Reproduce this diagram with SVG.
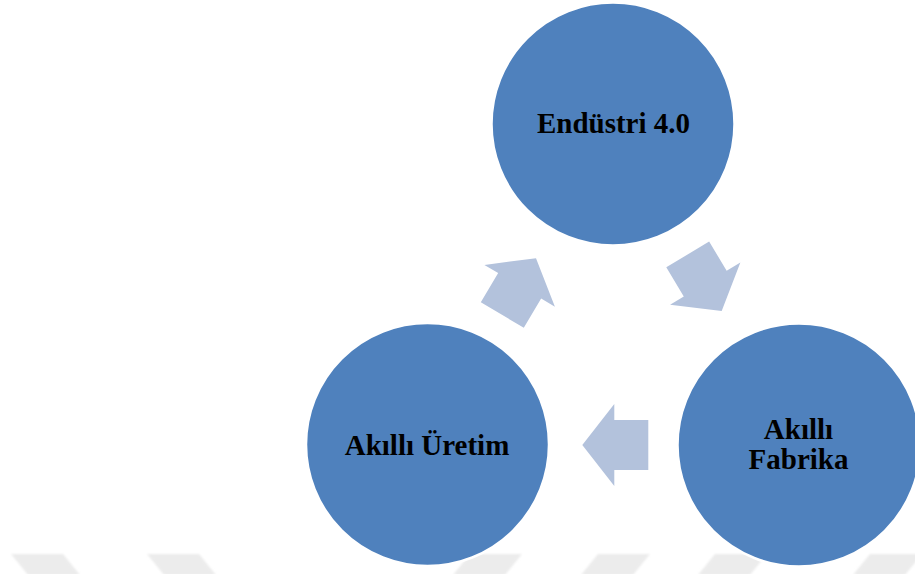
<svg xmlns="http://www.w3.org/2000/svg" width="915" height="574" viewBox="0 0 915 574">
  <style>
    .node { fill: #4F81BD; stroke: #FFFFFF; stroke-width: 2.5; }
    .label { font-family: "Liberation Serif", "Times New Roman", serif; font-weight: bold; font-size: 29px; fill: #000000; text-anchor: middle; }
    .arrow { fill: #B3C2DC; }
    .mark { fill: #ECECEC; }
  </style>
  <defs>
    <!-- block arrow, tip at origin, pointing along +x -->
    <polygon id="blockArrow" points="0,0 -32,-41 -32,-25 -66,-25 -66,25 -32,25 -32,41"/>
    <filter id="soft" x="-20%" y="-50%" width="140%" height="200%">
      <feGaussianBlur stdDeviation="1.2"/>
    </filter>
  </defs>

  <rect width="915" height="574" fill="#FFFFFF"/>

  <!-- faint background band along the bottom edge -->
  <g id="backdrop" filter="url(#soft)">
    <polygon class="mark" points="11,554 63,554 80,575 28,575"/>
    <polygon class="mark" points="147,554 199,554 216,575 164,575"/>
    <polygon class="mark" points="470,554 522,554 505,575 453,575"/>
    <polygon class="mark" points="598,554 650,554 633,575 581,575"/>
    <polygon class="mark" points="715,554 767,554 750,575 698,575"/>
    <polygon class="mark" points="870,554 922,554 905,575 853,575"/>
  </g>

  <g id="connectors">
    <use href="#blockArrow" class="arrow" transform="translate(721.7,311) rotate(59)"/>
    <use href="#blockArrow" class="arrow" transform="translate(582.3,445) rotate(180)"/>
    <use href="#blockArrow" class="arrow" transform="translate(536,258.3) rotate(-59.3)"/>
  </g>

  <g id="endustri">
    <circle class="node" cx="613" cy="124" r="121.5"/>
    <text class="label" x="613.5" y="133">Endüstri 4.0</text>
  </g>

  <g id="akilli-fabrika">
    <circle class="node" cx="799" cy="445" r="121.5"/>
    <text class="label" x="798.5" y="439">Akıllı</text>
    <text class="label" x="798.5" y="469">Fabrika</text>
  </g>

  <g id="akilli-uretim">
    <circle class="node" cx="427.5" cy="444.5" r="121.5"/>
    <text class="label" x="427" y="455">Akıllı Üretim</text>
  </g>
</svg>
